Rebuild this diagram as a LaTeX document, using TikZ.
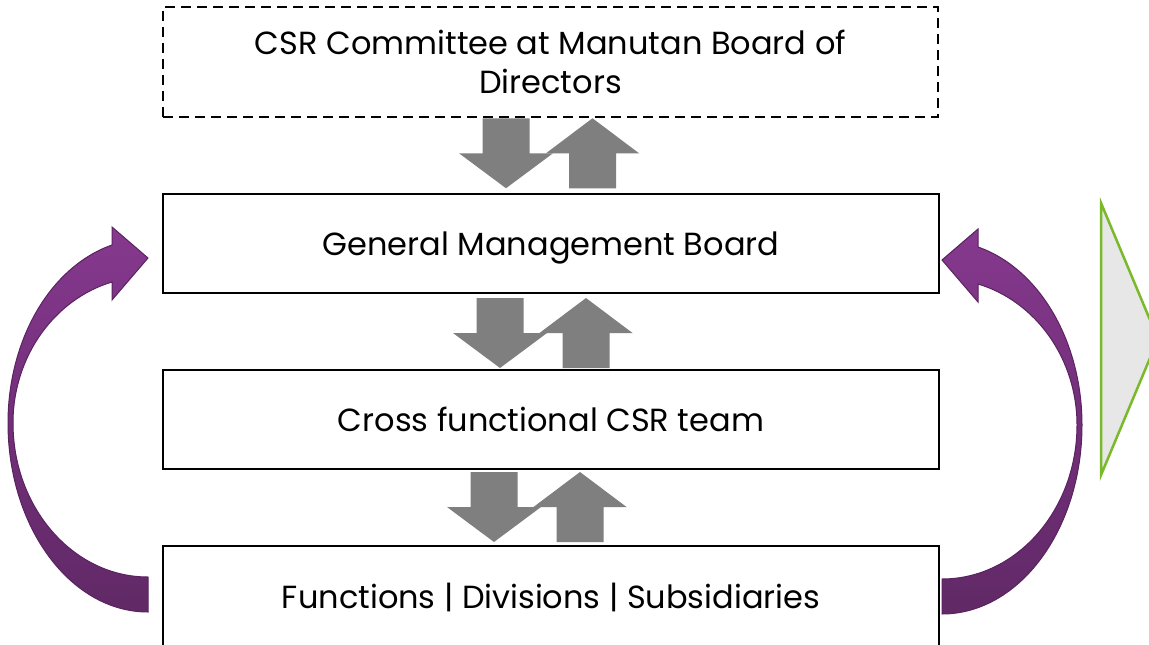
\documentclass[tikz,border=0pt]{standalone}
\usepackage{fontspec}
\setmainfont{Poppins}
\usetikzlibrary{calc}
\definecolor{garrowc}{HTML}{7F7F7F}
\definecolor{purpA}{HTML}{86398E}
\definecolor{purpM}{HTML}{722F79}
\definecolor{purpB}{HTML}{612966}
\definecolor{purpE}{HTML}{5A2360}
\definecolor{greenE}{HTML}{7AB929}
\definecolor{triF}{HTML}{E7E7E7}
\newcommand\dnarr[1]{\fill[garrow] (#1) ++(-23.5,0) -- ++(47,0) -- ++(0,35) -- ++(23.5,0) -- ++(-47,35) -- ++(-47,-35) -- ++(23.5,0) -- cycle;}
\newcommand\uparr[1]{\fill[garrow] (#1) -- ++(46.5,35) -- ++(-23,0) -- ++(0,35) -- ++(-47,0) -- ++(0,-35) -- ++(-23,0) -- cycle;}
\begin{document}
\begin{tikzpicture}[x=1pt,y=-1pt,
  box/.style={draw=black, line width=2pt, fill=white, inner sep=0pt, align=center,
    font=\fontsize{32}{39}\selectfont, text=black},
  dashbox/.style={box, line width=2.5pt, dash pattern=on 10pt off 6pt},
  garrow/.style={fill=garrowc},
  purp/.style={draw=purpE, line width=1pt, top color=purpA, bottom color=purpB, middle color=purpM},
  tri/.style={draw=greenE, line width=2.5pt, fill=triF}]
\clip (0,0) rectangle (1149,645);
\fill[white] (0,0) rectangle (1149,645);

\node[dashbox, minimum width=775pt, minimum height=110pt] (b1) at (550.5,62) {CSR Committee at Manutan Board of\\Directors};
\node[box, minimum width=776pt, minimum height=99pt, text depth=0pt] (b2) at (551,243.5) {General Management Board};
\node[box, minimum width=776pt, minimum height=99pt] (b3) at (551,419.5) {Cross functional CSR team};
\node[box, minimum width=776pt, minimum height=102pt] (b4) at (551,597) {Functions | Divisions | Subsidiaries};

% gray block arrows
\dnarr{$(b1.south)+(-44.5,0)$}
\uparr{$(b1.south)+(42,0)$}
\dnarr{$(b2.south)+(-51,4)$}
\uparr{$(b2.south)+(35,4)$}
\dnarr{$(b3.south)+(-57,2)$}
\uparr{$(b3.south)+(29,2)$}

% curved purple arrows
\draw[purp] (148,612) .. controls (70.7,612) and (8,527.3) .. (8,423)
  .. controls (8,339.5) and (50.6,266.5) .. (112,245)
  -- (112,227) -- (148,258) -- (112,300) -- (112,282)
  .. controls (53.6,299.6) and (13,357.3) .. (13,423)
  .. controls (13,508) and (73.5,577) .. (148,577) -- cycle;
\draw[purp] (942,614) .. controls (1019.3,614) and (1082,529.3) .. (1082,425)
  .. controls (1082,341.5) and (1039.4,268.5) .. (978,247)
  -- (978,229) -- (942,260) -- (978,302) -- (978,284)
  .. controls (1036.4,301.6) and (1077,359.3) .. (1077,425)
  .. controls (1077,510) and (1016.5,579) .. (942,579) -- cycle;

% green triangle
\draw[tri] (1101,203) -- (1158,339) -- (1101,475) -- cycle;
\end{tikzpicture}
\end{document}
